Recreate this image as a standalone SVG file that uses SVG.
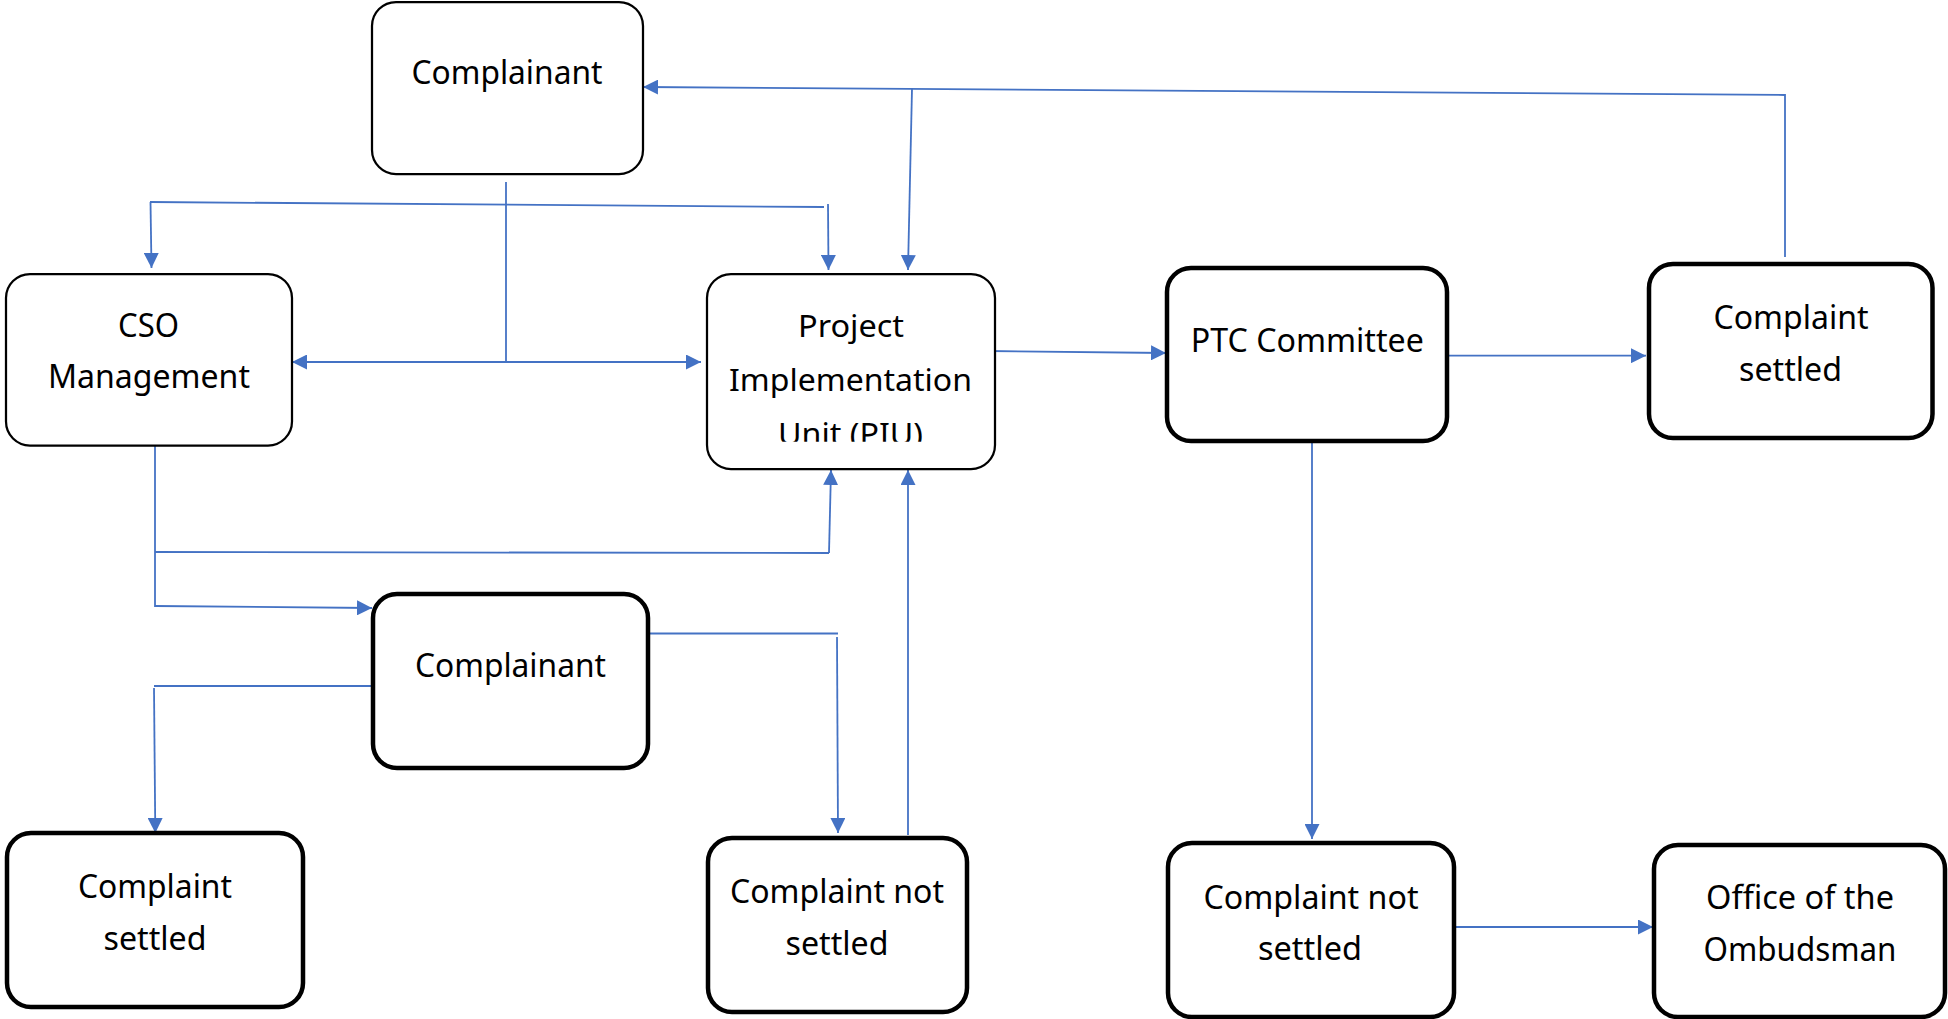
<svg xmlns="http://www.w3.org/2000/svg" width="1948" height="1019" viewBox="0 0 1948 1019">
<style>
.box{fill:#fff;stroke:#000;}
.thin{stroke-width:2.25;}
.thick{stroke-width:4.5;}
.t{font-family:"Noto Sans","Open Sans",sans-serif;fill:#000;text-anchor:middle;}
.c{font-size:33px;}
.s{font-size:31px;}
.ln{fill:none;stroke:#4472C4;stroke-width:1.8;}
</style>
<defs>
<marker id="ah" markerUnits="userSpaceOnUse" markerWidth="15" markerHeight="15" viewBox="0 0 15 15" refX="15" refY="7.5" orient="auto-start-reverse">
<path d="M0,0 L15,7.5 L0,15 z" fill="#4472C4"/>
</marker>
<clipPath id="piuclip"><rect x="707" y="274" width="288" height="167.7"/></clipPath>
</defs>
<rect width="1948" height="1019" fill="#fff"/>

<g id="connectors">
<polyline class="ln" points="1785,257 1785,95 643,87" marker-end="url(#ah)"/>
<line class="ln" x1="912" y1="89" x2="908" y2="270" marker-end="url(#ah)"/>
<line class="ln" x1="506" y1="182" x2="506" y2="362"/>
<line class="ln" x1="292" y1="362" x2="701" y2="362" marker-start="url(#ah)" marker-end="url(#ah)"/>
<line class="ln" x1="150" y1="202" x2="824" y2="207"/>
<line class="ln" x1="150.5" y1="202" x2="151.5" y2="268" marker-end="url(#ah)"/>
<line class="ln" x1="828" y1="204" x2="828.5" y2="270" marker-end="url(#ah)"/>
<line class="ln" x1="988" y1="351" x2="1166" y2="353" marker-end="url(#ah)"/>
<line class="ln" x1="1447" y1="355.7" x2="1646" y2="355.7" marker-end="url(#ah)"/>
<line class="ln" x1="1312" y1="441" x2="1312" y2="839" marker-end="url(#ah)"/>
<line class="ln" x1="1450" y1="927" x2="1653" y2="927" marker-end="url(#ah)"/>
<line class="ln" x1="155" y1="443" x2="155" y2="607"/>
<line class="ln" x1="155" y1="552" x2="829" y2="553"/>
<line class="ln" x1="829" y1="553" x2="831" y2="470" marker-end="url(#ah)"/>
<line class="ln" x1="155" y1="606" x2="372" y2="608" marker-end="url(#ah)"/>
<line class="ln" x1="376" y1="686" x2="154" y2="686"/>
<line class="ln" x1="154" y1="688" x2="155.3" y2="833" marker-end="url(#ah)"/>
<line class="ln" x1="648" y1="633.5" x2="838" y2="633.5"/>
<line class="ln" x1="837" y1="637" x2="838" y2="833" marker-end="url(#ah)"/>
<line class="ln" x1="908" y1="835" x2="908" y2="470" marker-end="url(#ah)"/>
</g>

<g id="complainant-top">
<rect class="box thin" x="372" y="2" width="271" height="172" rx="24"/>
<text class="t" x="507" y="84" font-size="32" textLength="191" lengthAdjust="spacingAndGlyphs">Complainant</text>
</g>

<g id="cso-management">
<rect class="box thin" x="6" y="274" width="286" height="171.5" rx="24"/>
<text class="t c" x="148.5" y="337" textLength="61" lengthAdjust="spacingAndGlyphs">CSO</text>
<text class="t c" x="149" y="388" textLength="202" lengthAdjust="spacingAndGlyphs">Management</text>
</g>

<g id="piu">
<rect class="box thin" x="707" y="274" width="288" height="195" rx="24"/>
<g clip-path="url(#piuclip)">
<text class="t s" x="851" y="337" textLength="106" lengthAdjust="spacingAndGlyphs">Project</text>
<text class="t s" x="850.5" y="391" textLength="243" lengthAdjust="spacingAndGlyphs">Implementation</text>
<text class="t s" x="850.5" y="445" textLength="145" lengthAdjust="spacingAndGlyphs">Unit (PIU)</text>
</g>
</g>

<g id="ptc-committee">
<rect class="box thick" x="1167" y="268" width="280" height="173" rx="24"/>
<text class="t c" x="1307.3" y="351.7" textLength="233" lengthAdjust="spacingAndGlyphs">PTC Committee</text>
</g>

<g id="complaint-settled-right">
<rect class="box thick" x="1649" y="264" width="283.5" height="174" rx="24"/>
<text class="t c" x="1791" y="329" textLength="155" lengthAdjust="spacingAndGlyphs">Complaint</text>
<text class="t c" x="1790.5" y="380.7" textLength="103" lengthAdjust="spacingAndGlyphs">settled</text>
</g>

<g id="complainant-mid">
<rect class="box thick" x="373" y="594" width="275" height="174" rx="24"/>
<text class="t c" x="510.5" y="677" textLength="191" lengthAdjust="spacingAndGlyphs">Complainant</text>
</g>

<g id="complaint-settled-left">
<rect class="box thick" x="7" y="833" width="296" height="174" rx="24"/>
<text class="t c" x="155" y="898" textLength="154" lengthAdjust="spacingAndGlyphs">Complaint</text>
<text class="t c" x="155" y="950" textLength="103" lengthAdjust="spacingAndGlyphs">settled</text>
</g>

<g id="complaint-not-settled-mid">
<rect class="box thick" x="708" y="838" width="259" height="174" rx="24"/>
<text class="t c" x="837" y="903" textLength="214" lengthAdjust="spacingAndGlyphs">Complaint not</text>
<text class="t c" x="837" y="955" textLength="103" lengthAdjust="spacingAndGlyphs">settled</text>
</g>

<g id="complaint-not-settled-right">
<rect class="box thick" x="1168" y="843" width="286" height="174" rx="24"/>
<text class="t c" x="1311" y="909" textLength="215" lengthAdjust="spacingAndGlyphs">Complaint not</text>
<text class="t c" x="1310" y="960" textLength="104" lengthAdjust="spacingAndGlyphs">settled</text>
</g>

<g id="office-of-the-ombudsman">
<rect class="box thick" x="1654" y="845" width="291" height="172" rx="24"/>
<text class="t c" x="1800" y="909" textLength="188" lengthAdjust="spacingAndGlyphs">Office of the</text>
<text class="t c" x="1800" y="961" textLength="193" lengthAdjust="spacingAndGlyphs">Ombudsman</text>
</g>
</svg>
